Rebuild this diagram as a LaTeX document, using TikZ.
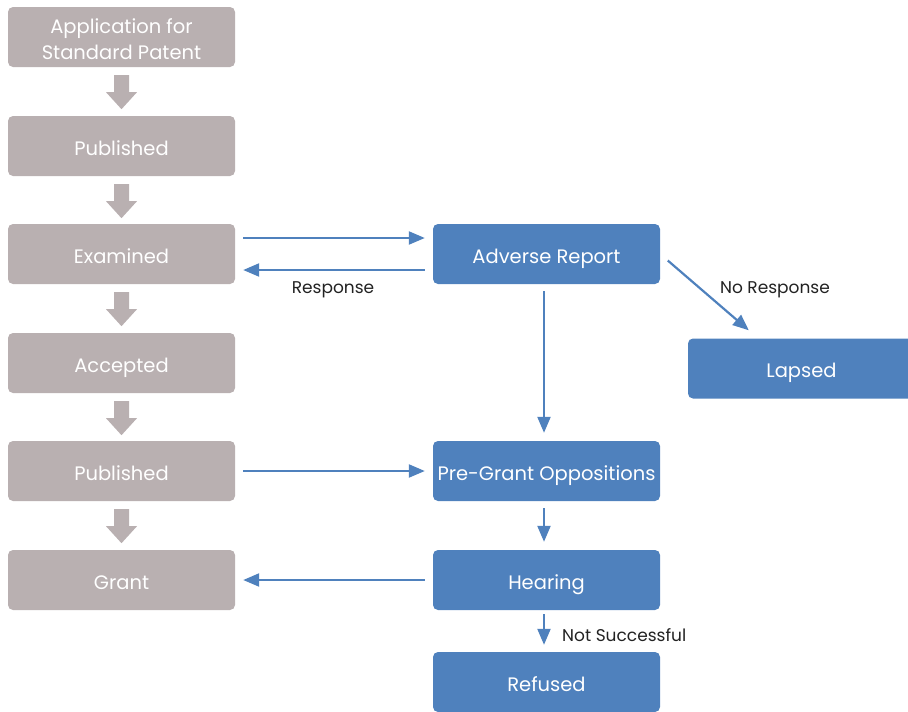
\documentclass[tikz,border=0pt]{standalone}
\usepackage{fontspec}
\setmainfont{Poppins}
\usetikzlibrary{arrows.meta}
\definecolor{boxgrey}{RGB}{185,176,177}
\definecolor{boxblue}{RGB}{79,129,189}
\definecolor{lbltext}{RGB}{34,34,34}
\begin{document}
\begin{tikzpicture}[x=1pt,y=1pt]
	\tikzstyle{every node}+=[inner sep=0pt]
	\tikzstyle{box}=[rectangle, rounded corners=5pt, minimum width=227pt, minimum height=60pt, text=white, font=\fontsize{19.5}{26}\selectfont, align=center, text height=18pt, text depth=0pt]
	\tikzstyle{greybox}=[box, fill=boxgrey]
	\tikzstyle{bluebox}=[box, fill=boxblue]
	\tikzstyle{flow}=[draw=boxblue, line width=2.2pt, -{Triangle[length=16pt,width=13pt]}, shorten <=8pt, shorten >=8pt]
	\tikzstyle{lbl}=[text=lbltext, font=\fontsize{17}{20}\selectfont]
	\useasboundingbox (0,0) rectangle (908,-712);
	% left column
	\node [greybox, text height=44pt] (app) at (121.5,-37) {Application for\\Standard Patent};
	\node [greybox] (pubA) at (121.5,-146) {Published};
	\node [greybox] (exam) at (121.5,-254) {Examined};
	\node [greybox] (acc) at (121.5,-363) {Accepted};
	\node [greybox] (pubB) at (121.5,-471) {Published};
	\node [greybox] (grant) at (121.5,-580) {Grant};
	% right column
	\node [bluebox] (adv) at (546.5,-254) {Adverse Report};
	\node [bluebox] (lap) at (801.5,-368.5) {Lapsed};
	\node [bluebox] (pgo) at (546.5,-471) {Pre-Grant Oppositions};
	\node [bluebox] (hear) at (546.5,-580) {Hearing};
	\node [bluebox] (ref) at (546.5,-682) {Refused};
	% block arrows
	\foreach \a/\b in {app/pubA,pubA/exam,exam/acc,acc/pubB,pubB/grant}
		\fill [boxgrey] ([xshift=-7.5pt,yshift=-8pt]\a.south) -- ++(15,0) -- ++(0,-17) -- ++(8,0) -- ++(-15.5,-17) -- ++(-15.5,17) -- ++(8,0) -- cycle;
	% flow
	\draw [flow] ([yshift=16pt]exam.east) -- ([yshift=16pt]adv.west);
	\draw [flow] ([yshift=-16pt]adv.west) -- ([yshift=-16pt]exam.east);
	\node [lbl] (resp) at (333,-290) {Response};
	\draw [flow, shorten <=10pt, shorten >=0pt] (adv.east) -- ([xshift=61pt,yshift=8pt]lap.north west);
	\node [lbl] (noresp) at (775,-290) {No Response};
	\draw [flow, shorten <=7pt] ([xshift=-2.5pt]adv.south) -- ([xshift=-2.5pt]pgo.north);
	\draw [flow] (pubB.east) -- (pgo.west);
	\draw [flow, shorten <=7pt] ([xshift=-2.5pt]pgo.south) -- ([xshift=-2.5pt]hear.north);
	\draw [flow] (hear.west) -- (grant.east);
	\draw [flow, shorten <=4pt, shorten >=7pt] ([xshift=-2.5pt]hear.south) -- ([xshift=-2.5pt]ref.north);
	\node [lbl, anchor=west] (notsucc) at (562,-635) {Not Successful};
\end{tikzpicture}
\end{document}
